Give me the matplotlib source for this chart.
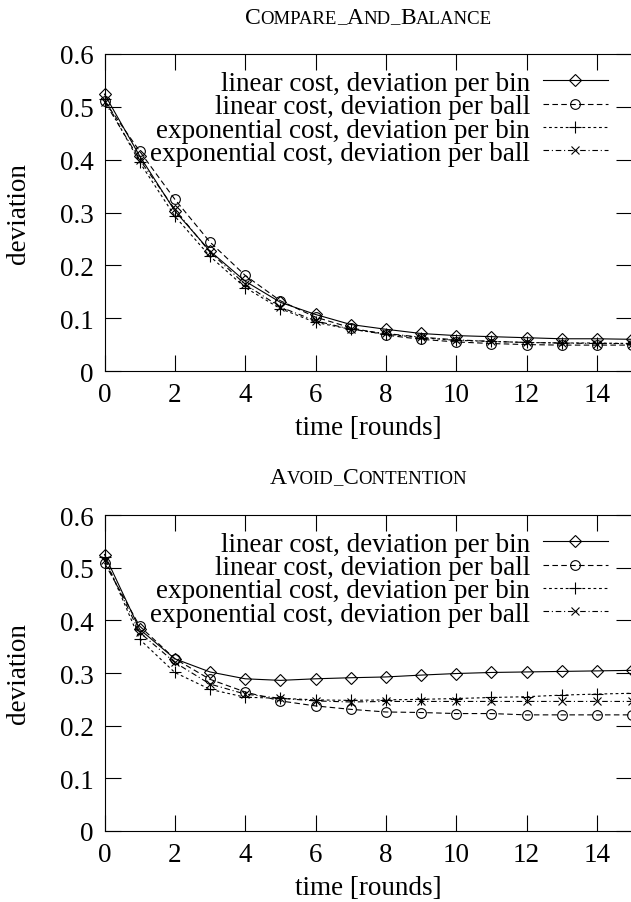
import matplotlib
matplotlib.use("Agg")
import matplotlib.pyplot as plt
from matplotlib.offsetbox import TextArea, HPacker, AnchoredOffsetbox

plt.rcParams['font.family'] = ['Liberation Serif', 'DejaVu Serif']

# data
rounds = [0, 1, 2, 3, 4, 5, 6, 7, 8, 9, 10, 11, 12, 13, 14, 15]

cab_lin_bin = [0.524, 0.407, 0.303, 0.227, 0.170, 0.130, 0.107, 0.088,
               0.079, 0.071, 0.067, 0.065, 0.063, 0.061, 0.061, 0.060]
cab_lin_ball = [0.511, 0.416, 0.325, 0.244, 0.181, 0.133, 0.102, 0.082,
                0.068, 0.060, 0.055, 0.052, 0.050, 0.049, 0.049, 0.049]
cab_exp_bin = [0.515, 0.395, 0.293, 0.217, 0.158, 0.118, 0.092, 0.079,
               0.070, 0.063, 0.058, 0.056, 0.054, 0.053, 0.053, 0.052]
cab_exp_ball = [0.510, 0.400, 0.306, 0.225, 0.164, 0.121, 0.095, 0.079,
                0.071, 0.064, 0.059, 0.056, 0.054, 0.053, 0.052, 0.052]

ac_lin_bin = [0.525, 0.383, 0.327, 0.302, 0.289, 0.286, 0.289, 0.291,
              0.2925, 0.296, 0.299, 0.301, 0.302, 0.303, 0.304, 0.305]
ac_lin_ball = [0.509, 0.389, 0.327, 0.288, 0.264, 0.247, 0.2375, 0.231,
               0.226, 0.225, 0.223, 0.223, 0.2205, 0.2205, 0.2205, 0.2205]
ac_exp_bin = [0.520, 0.364, 0.301, 0.269, 0.254, 0.252, 0.249, 0.248,
              0.249, 0.250, 0.2515, 0.2535, 0.255, 0.258, 0.260, 0.2615]
ac_exp_ball = [0.515, 0.377, 0.320, 0.279, 0.260, 0.252, 0.247, 0.245,
               0.246, 0.246, 0.246, 0.246, 0.246, 0.246, 0.246, 0.246]

labels = ['linear cost, deviation per bin', 'linear cost, deviation per ball',
          'exponential cost, deviation per bin', 'exponential cost, deviation per ball']
xticks = [0, 2, 4, 6, 8, 10, 12, 14]
yticks = [0, 0.1, 0.2, 0.3, 0.4, 0.5, 0.6]
yticklabels = ['0', '0.1', '0.2', '0.3', '0.4', '0.5', '0.6']

FS = 19.5
W, H = 631, 903

styles = [
    dict(marker='D', ms=6, ls='-'),
    dict(marker='o', ms=7, dashes=(5, 3)),
    dict(marker='+', ms=8, dashes=(2.5, 2.5)),
    dict(marker='x', ms=6, dashes=(5, 2.5, 1, 2.5)),
]


def small_caps(fig, parts, x, y):
    boxes = []
    for txt, big in parts:
        size = 17 if big else 13.5
        boxes.append(TextArea(txt, textprops=dict(fontsize=size, color='black')))
    pack = HPacker(children=boxes, align='baseline', pad=0, sep=0)
    anch = AnchoredOffsetbox(loc='center', child=pack, pad=0, borderpad=0,
                             frameon=False, bbox_to_anchor=(x, y),
                             bbox_transform=fig.transFigure)
    fig.add_artist(anch)


def panel(ax, series):
    for vals, st, lab in zip(series, styles, labels):
        ax.plot(rounds, vals, color='black', lw=0.8, mfc='none', mec='black',
                mew=0.8, label=lab, clip_on=False, **st)
    ax.set_xlim(0, 15)
    ax.set_ylim(0, 0.6)
    ax.set_xticks(xticks)
    ax.set_yticks(yticks)
    ax.set_yticklabels(yticklabels)
    ax.tick_params(direction='in', length=11.5, width=0.8, labelsize=FS,
                   pad=8, top=True, right=True)
    for s in ax.spines.values():
        s.set_linewidth(0.8)
    ax.set_xlabel('time [rounds]', fontsize=FS, labelpad=6)
    ax.set_ylabel('deviation', fontsize=FS)
    ax.yaxis.set_label_coords(-0.139, 0.5)
    ax.legend(loc='upper right', bbox_to_anchor=(0.9545, 0.947), frameon=False,
              markerfirst=False, fontsize=FS, handlelength=2.4,
              handletextpad=0.48, labelspacing=-0.06, borderpad=0,
              borderaxespad=0)


fig = plt.figure(figsize=(W / 100, H / 100), dpi=100)
left = 104.5 / W
width = (632 - 104.5) / W
ax1 = fig.add_axes([left, 1 - 372 / H, width, 317 / H])
ax2 = fig.add_axes([left, 1 - 832 / H, width, 316 / H])

panel(ax1, [cab_lin_bin, cab_lin_ball, cab_exp_bin, cab_exp_ball])
panel(ax2, [ac_lin_bin, ac_lin_ball, ac_exp_bin, ac_exp_ball])

cx = (104.5 + 632) / 2 / W
small_caps(fig, [('C', True), ('OMPARE', False), ('_', False), ('A', True),
                 ('ND', False), ('_', False), ('B', True), ('ALANCE', False)],
           cx, 1 - 18 / H)
small_caps(fig, [('A', True), ('VOID', False), ('_', False), ('C', True),
                 ('ONTENTION', False)], cx, 1 - 479 / H)

fig.savefig('out.png', dpi=100)
